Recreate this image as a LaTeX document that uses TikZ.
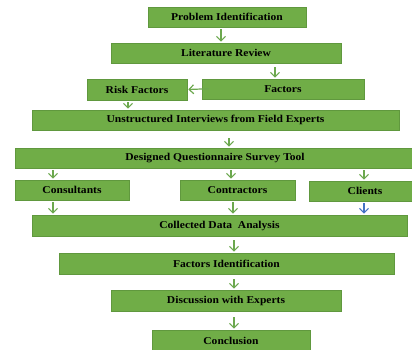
\documentclass[tikz,border=0pt]{standalone}
\usepackage{fontspec}
\setmainfont{Liberation Serif}[FakeStretch=1.1]
\usepackage{tikz}
\usetikzlibrary{positioning, arrows.meta}
\usepackage{xcolor}
\definecolor{boxgreen}{RGB}{112,173,71}
\definecolor{boxedge}{RGB}{96,152,62}
\definecolor{arrowgreen}{RGB}{108,168,78}
\definecolor{arrowblue}{RGB}{68,114,196}
\tikzset{
  stage/.style={rectangle, fill=boxgreen, draw=boxedge, line width=0.6pt, inner sep=0pt, minimum height=20pt, text=black, font=\bfseries\fontsize{10.5}{12}\selectfont},
  flow/.style={draw=arrowgreen, line width=1.2pt, -{Straight Barb[length=4.5pt,width=9pt]}, shorten <=2pt, shorten >=1pt}
}
\begin{document}
\begin{tikzpicture}[x=1pt,y=-1pt]
\useasboundingbox (0,0) rectangle (412,349);
\node[stage, minimum width=158pt] (prob) at (227,17) {Problem Identification};
\node[stage, minimum width=230pt] (lit) at (226,53) {Literature Review};
\node[stage, minimum width=100pt, minimum height=21pt] (risk) at (137,89.5) {Risk Factors};
\node[stage, minimum width=162pt] (fac) at (283,89) {Factors};
\node[stage, minimum width=367pt] (unstr) at (215.5,120) {Unstructured Interviews from Field Experts};
\node[stage, minimum width=400pt] (quest) at (215,158) {Designed Questionnaire Survey Tool};
\node[stage, minimum width=114pt] (cons) at (72,190) {Consultants};
\node[stage, minimum width=115pt] (contr) at (237.5,190) {Contractors};
\node[stage, minimum width=112pt] (cli) at (365,191) {Clients};
\node[stage, minimum width=375pt, minimum height=21pt] (coll) at (219.5,225.5) {Collected Data\ \ Analysis};
\node[stage, minimum width=335pt, minimum height=21pt] (fid) at (226.5,263.5) {Factors Identification};
\node[stage, minimum width=230pt, minimum height=21pt] (disc) at (226,300.5) {Discussion with Experts};
\node[stage, minimum width=158pt, minimum height=22pt] (concl) at (231,341) {Conclusion};
% connectors
\draw[flow] (prob.south -| 221,0) -- (lit.north -| 221,0);
\draw[flow, shorten <=4pt] (lit.south -| 275,0) -- (fac.north -| 275,0);
\draw[flow, shorten <=-7pt] (fac.west) -- (risk.east);
\draw[flow] (risk.south -| 128,0) -- (unstr.north -| 128,0);
\draw[flow, shorten <=8pt] (unstr.south -| 229,0) -- (quest.north -| 229,0);
\draw[flow] (quest.south -| 53,0) -- (cons.north -| 53,0);
\draw[flow] (quest.south -| 231,0) -- (contr.north -| 231,0);
\draw[flow] (quest.south -| 364,0) -- (cli.north -| 364,0);
\draw[flow] (cons.south -| 53,0) -- (coll.north -| 53,0);
\draw[flow] (contr.south -| 233,0) -- (coll.north -| 233,0);
\draw[flow, draw=arrowblue] (cli.south -| 364,0) -- (coll.north -| 364,0);
\draw[flow, shorten <=4pt] (coll.south -| 234,0) -- (fid.north -| 234,0);
\draw[flow, shorten <=5pt] (fid.south -| 234,0) -- (disc.north -| 234,0);
\draw[flow, shorten <=6pt] (disc.south -| 234,0) -- (concl.north -| 234,0);
\end{tikzpicture}
\end{document}
